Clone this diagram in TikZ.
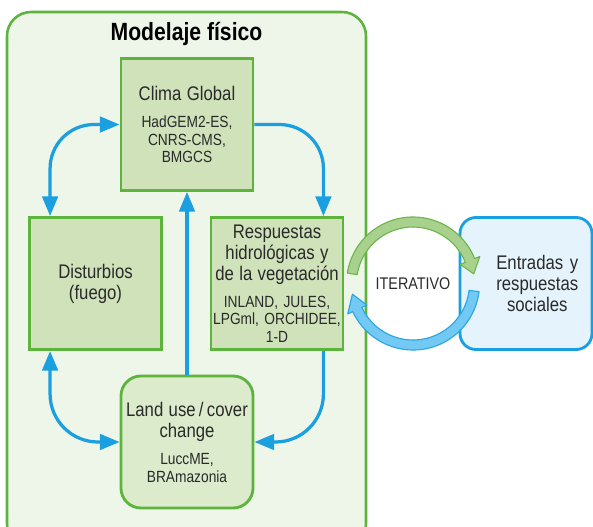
\documentclass[tikz,border=0pt]{standalone}
\usepackage{fontspec}
\setmainfont{Liberation Sans}[FakeStretch=0.85]
\usetikzlibrary{arrows.meta,calc}

\definecolor{panelgreen}{HTML}{5DB43C}
\definecolor{panelfill}{HTML}{EEF5E9}
\definecolor{boxgreen}{HTML}{CFE2BA}
\definecolor{landgreen}{HTML}{DCEBCC}
\definecolor{flowblue}{HTML}{1A9FE0}
\definecolor{socialfill}{HTML}{E4F3FC}
\definecolor{arcgreen}{HTML}{A9D18E}
\definecolor{arcgreenline}{HTML}{6CB64B}
\definecolor{arcblue}{HTML}{72C9F3}
\definecolor{arcblueline}{HTML}{2BA6E1}
\definecolor{txtgray}{HTML}{2A2A2A}

\newcommand\boxmain{\fontsize{14}{15}\selectfont}
\newcommand\boxsub{\fontsize{11.5}{12.5}\selectfont}

\tikzset{
  panel/.style={draw=panelgreen, fill=panelfill, line width=1.8pt, rounded corners=0.6cm},
  modelbox/.style={draw=panelgreen, fill=boxgreen, line width=2pt, minimum width=3.3cm,
    minimum height=3.3cm, text width=3.2cm, align=center, inner sep=1pt, font=\boxsub, text=txtgray},
  socialbox/.style={modelbox, draw=flowblue, fill=socialfill, rounded corners=0.4cm, font=\boxmain},
  flowarrow/.style={draw=flowblue, line width=2.3pt, -{Triangle[length=14pt,width=11pt]}},
  flowboth/.style={flowarrow, {Triangle[length=14pt,width=11pt]}-{Triangle[length=14pt,width=11pt]}},
  arcgreenstyle/.style={fill=arcgreen, draw=arcgreenline, line width=0.8pt, line join=round},
  arcbluestyle/.style={fill=arcblue, draw=arcblueline, line width=0.8pt, line join=round},
}

\begin{document}
\begin{tikzpicture}[x=0.025cm, y=-0.025cm]
	\useasboundingbox (0,0) rectangle (593,527);
	\clip (0,0) rectangle (593,527);
	% panel of the physical models
	\draw[panel] (7,12) rectangle (366,548);
	\node[font=\bfseries\fontsize{17.7}{20}\selectfont] (title) at (186.5,34) {Modelaje físico};
	% model boxes
	\node[modelbox] (clima) at (187,124.5) {{\boxmain Clima Global\par}\vspace{7pt}HadGEM2-ES,\\CNRS-CMS,\\BMGCS};
	\node[modelbox, font=\boxmain] (dist) at (95.5,283.5) {Disturbios\\(fuego)};
	\node[modelbox] (resp) at (277,283.5) {{\boxmain Respuestas\\hidrológicas y\\de la vegetación\par}\vspace{6.5pt}INLAND, JULES,\\LPGml, ORCHIDEE,\\1-D};
	\node[modelbox, fill=landgreen, rounded corners=0.5cm] (land) at (187,442) {{\boxmain Land use\,/\,cover\\change\par}\vspace{7pt}LuccME,\\BRAmazonia};
	% links
	\draw[flowboth, rounded corners=1.1cm] ($(dist.north west)+(22,0)$) |- (clima.west);
	\draw[flowarrow, rounded corners=1.1cm] (clima.east) -| ($(resp.north east)+(-21,0)$);
	\draw[flowarrow] (land.north) -- (clima.south);
	\draw[flowboth, rounded corners=1.2cm] ($(dist.south west)+(22,0)$) |- (land.west);
	\draw[flowarrow, rounded corners=1.2cm] ($(resp.south east)+(-21,0)$) |- (land.east);
	% social side
	\node[socialbox] (social) at (526,283.5) {\hspace*{16pt}\parbox{2.6cm}{\centering Entradas y\\respuestas\\sociales}};
	% iterative loop
	\coordinate (ic) at (413,283.5);
	\draw[arcgreenstyle] ($(ic)+(-171:66.5)$) arc[start angle=-171, end angle=-22, radius=66.5]
		-- ($(ic)+(-22:72)$) -- ($(ic)+(-9:61.5)$) -- ($(ic)+(-22:51)$) -- ($(ic)+(-22:56.5)$)
		arc[start angle=-22, end angle=-171, radius=56.5] -- cycle;
	\draw[arcbluestyle] ($(ic)+(7:66.5)$) arc[start angle=7, end angle=155, radius=66.5]
		-- ($(ic)+(155:72)$) -- ($(ic)+(170:61.5)$) -- ($(ic)+(155:51)$) -- ($(ic)+(155:56.5)$)
		arc[start angle=155, end angle=7, radius=56.5] -- cycle;
	\node[font=\fontsize{12}{14}\selectfont, text=txtgray] (iter) at (ic) {ITERATIVO};
\end{tikzpicture}
\end{document}
